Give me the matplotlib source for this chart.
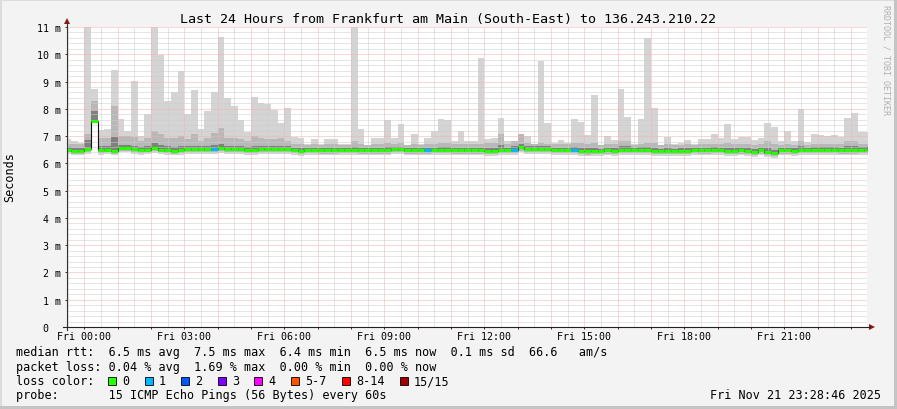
import numpy as np
import matplotlib
matplotlib.use("Agg")
import matplotlib.pyplot as plt
from matplotlib.ticker import MultipleLocator, FuncFormatter
from matplotlib.patches import Polygon, Rectangle
from matplotlib.lines import Line2D

W, H = 897, 410

TITLE = "Last 24 Hours from Frankfurt am Main (South-East) to 136.243.210.22"

# 12-minute steps, first one starts at 23:24 of the previous day (hours relative to Fri 00:00)
START_HOUR = -0.6
STEP_HOURS = 0.2

# top of the smoke (slowest ping), ms
MAX = [
    6.88, 6.82, 6.76, 11.0, 8.72, 7.22, 7.27, 9.41, 7.62, 7.19,
    9.02, 7.00, 7.80, 11.0, 9.96, 8.29, 8.63, 9.39, 7.80, 8.68,
    7.25, 7.92, 8.62, 10.64, 8.39, 8.10, 7.58, 7.15, 8.44, 8.23,
    8.19, 7.95, 7.49, 8.02, 6.97, 6.92, 6.72, 6.88, 6.72, 6.88,
    6.88, 6.72, 6.72, 11.0, 7.25, 6.67, 6.94, 6.94, 7.59, 6.94,
    7.43, 6.64, 7.09, 6.70, 6.94, 7.19, 7.62, 7.59, 6.82, 7.19,
    6.82, 6.82, 9.88, 6.88, 6.92, 7.68, 6.82, 6.82, 6.94, 7.00,
    6.67, 9.76, 7.49, 6.76, 6.86, 6.76, 7.62, 7.53, 7.04, 8.51,
    6.64, 7.00, 6.85, 8.74, 7.70, 6.72, 7.64, 10.59, 8.02, 6.67,
    6.98, 6.70, 6.76, 6.86, 6.72, 6.91, 6.91, 7.09, 6.94, 7.43,
    6.91, 6.98, 6.98, 6.86, 6.94, 7.48, 7.33, 6.82, 7.19, 6.82,
    8.01, 6.78, 7.07, 7.04, 7.00, 7.04, 6.97, 7.68, 7.85, 7.16,
    7.16,
]

# upper edge of the medium smoke
HI2 = [
    6.70, 6.70, 6.70, 7.07, 8.29, 6.92, 6.92, 8.10, 7.00, 7.00,
    6.97, 6.82, 6.92, 7.19, 7.07, 6.94, 6.94, 7.00, 6.88, 7.07,
    6.82, 6.94, 7.13, 7.31, 6.94, 6.94, 6.88, 6.82, 7.00, 6.92,
    6.88, 6.88, 6.94, 6.82, 6.72, 6.70, 6.68, 6.72, 6.68, 6.72,
    6.72, 6.68, 6.68, 6.82, 6.72, 6.68, 6.72, 6.72, 6.74, 6.72,
    6.74, 6.66, 6.72, 6.68, 6.72, 6.72, 6.76, 6.74, 6.70, 6.72,
    6.70, 6.70, 6.72, 6.76, 6.76, 7.07, 6.70, 6.82, 7.07, 6.76,
    6.72, 6.76, 6.72, 6.70, 6.70, 6.70, 6.74, 6.74, 6.70, 6.76,
    6.66, 6.70, 6.70, 6.82, 6.82, 6.68, 6.72, 6.76, 6.76, 6.66,
    6.70, 6.66, 6.68, 6.70, 6.68, 6.70, 6.70, 6.72, 6.70, 6.76,
    6.70, 6.70, 6.70, 6.68, 6.70, 6.82, 6.72, 6.68, 6.72, 6.68,
    6.82, 6.68, 6.72, 6.72, 6.72, 6.72, 6.70, 6.82, 6.82, 6.72,
    6.72,
]

# upper edge of the dark smoke
HI3 = [
    6.60, 6.56, 6.56, 6.85, 7.92, 6.62, 6.62, 6.95, 6.68, 6.68,
    6.64, 6.60, 6.62, 6.75, 6.66, 6.62, 6.60, 6.64, 6.64, 6.64,
    6.62, 6.62, 6.68, 6.72, 6.64, 6.64, 6.64, 6.60, 6.62, 6.64,
    6.64, 6.64, 6.64, 6.62, 6.58, 6.56, 6.58, 6.58, 6.56, 6.58,
    6.58, 6.58, 6.58, 6.60, 6.58, 6.56, 6.58, 6.58, 6.60, 6.60,
    6.60, 6.56, 6.58, 6.56, 6.58, 6.58, 6.60, 6.60, 6.56, 6.58,
    6.56, 6.56, 6.58, 6.56, 6.58, 6.68, 6.58, 6.62, 6.72, 6.62,
    6.62, 6.62, 6.62, 6.58, 6.58, 6.58, 6.60, 6.56, 6.56, 6.58,
    6.54, 6.56, 6.56, 6.62, 6.62, 6.58, 6.60, 6.60, 6.58, 6.54,
    6.56, 6.54, 6.56, 6.56, 6.58, 6.56, 6.58, 6.60, 6.58, 6.58,
    6.56, 6.58, 6.56, 6.53, 6.58, 6.58, 6.50, 6.56, 6.58, 6.56,
    6.62, 6.58, 6.60, 6.60, 6.60, 6.60, 6.58, 6.62, 6.62, 6.60,
    6.60,
]

# median rtt, ms
MEDIAN = [
    6.50, 6.46, 6.46, 6.52, 7.54, 6.50, 6.50, 6.46, 6.58, 6.58,
    6.54, 6.50, 6.50, 6.57, 6.50, 6.50, 6.46, 6.50, 6.54, 6.52,
    6.52, 6.52, 6.52, 6.57, 6.54, 6.54, 6.54, 6.50, 6.50, 6.54,
    6.54, 6.54, 6.54, 6.54, 6.50, 6.46, 6.50, 6.50, 6.48, 6.48,
    6.48, 6.50, 6.50, 6.50, 6.48, 6.48, 6.48, 6.48, 6.48, 6.52,
    6.52, 6.48, 6.48, 6.48, 6.48, 6.50, 6.50, 6.50, 6.48, 6.48,
    6.48, 6.48, 6.48, 6.46, 6.46, 6.50, 6.50, 6.50, 6.60, 6.54,
    6.54, 6.53, 6.53, 6.50, 6.50, 6.50, 6.50, 6.46, 6.46, 6.46,
    6.46, 6.48, 6.46, 6.50, 6.50, 6.50, 6.50, 6.50, 6.46, 6.46,
    6.46, 6.46, 6.46, 6.46, 6.50, 6.48, 6.48, 6.50, 6.50, 6.46,
    6.46, 6.48, 6.46, 6.43, 6.48, 6.43, 6.38, 6.48, 6.48, 6.46,
    6.50, 6.50, 6.50, 6.50, 6.50, 6.50, 6.48, 6.48, 6.48, 6.50,
    6.50,
]

# lower edge of the dark smoke
LO3 = [
    6.45, 6.41, 6.41, 6.47, 7.50, 6.45, 6.45, 6.41, 6.53, 6.53,
    6.49, 6.45, 6.45, 6.52, 6.45, 6.45, 6.41, 6.45, 6.49, 6.47,
    6.47, 6.47, 6.47, 6.52, 6.49, 6.49, 6.49, 6.45, 6.45, 6.49,
    6.49, 6.49, 6.49, 6.49, 6.45, 6.41, 6.45, 6.45, 6.43, 6.43,
    6.43, 6.45, 6.45, 6.45, 6.43, 6.43, 6.43, 6.43, 6.43, 6.47,
    6.47, 6.43, 6.43, 6.43, 6.43, 6.45, 6.45, 6.45, 6.43, 6.43,
    6.43, 6.43, 6.43, 6.41, 6.41, 6.45, 6.45, 6.45, 6.55, 6.49,
    6.49, 6.48, 6.48, 6.45, 6.45, 6.45, 6.45, 6.41, 6.41, 6.41,
    6.41, 6.43, 6.41, 6.45, 6.45, 6.45, 6.45, 6.45, 6.41, 6.41,
    6.41, 6.41, 6.41, 6.41, 6.45, 6.43, 6.43, 6.45, 6.45, 6.41,
    6.41, 6.43, 6.41, 6.38, 6.43, 6.38, 6.33, 6.43, 6.43, 6.41,
    6.45, 6.45, 6.45, 6.45, 6.45, 6.45, 6.43, 6.43, 6.43, 6.45,
    6.45,
]

# lower edge of the medium smoke
LO2 = [
    6.40, 6.36, 6.36, 6.42, 7.50, 6.38, 6.40, 6.36, 6.46, 6.46,
    6.42, 6.38, 6.40, 6.44, 6.40, 6.38, 6.36, 6.38, 6.42, 6.40,
    6.40, 6.40, 6.40, 6.44, 6.42, 6.42, 6.42, 6.38, 6.38, 6.42,
    6.42, 6.42, 6.42, 6.42, 6.38, 6.34, 6.38, 6.38, 6.36, 6.36,
    6.36, 6.38, 6.38, 6.38, 6.36, 6.36, 6.36, 6.36, 6.36, 6.40,
    6.40, 6.36, 6.36, 6.36, 6.36, 6.38, 6.38, 6.38, 6.36, 6.36,
    6.36, 6.36, 6.36, 6.34, 6.34, 6.38, 6.38, 6.38, 6.46, 6.42,
    6.42, 6.41, 6.41, 6.38, 6.38, 6.38, 6.38, 6.34, 6.32, 6.34,
    6.34, 6.36, 6.34, 6.38, 6.38, 6.38, 6.38, 6.38, 6.34, 6.34,
    6.34, 6.34, 6.34, 6.34, 6.38, 6.36, 6.36, 6.38, 6.38, 6.34,
    6.34, 6.36, 6.34, 6.31, 6.36, 6.31, 6.26, 6.36, 6.36, 6.34,
    6.38, 6.38, 6.38, 6.38, 6.38, 6.38, 6.36, 6.36, 6.36, 6.38,
    6.38,
]

# bottom of the smoke (fastest ping)
LO = [
    6.34, 6.30, 6.30, 6.36, 7.50, 6.32, 6.34, 6.30, 6.40, 6.40,
    6.36, 6.32, 6.34, 6.38, 6.34, 6.32, 6.30, 6.32, 6.36, 6.34,
    6.34, 6.34, 6.34, 6.38, 6.36, 6.36, 6.36, 6.32, 6.32, 6.36,
    6.36, 6.36, 6.36, 6.36, 6.32, 6.28, 6.32, 6.32, 6.30, 6.30,
    6.30, 6.32, 6.32, 6.32, 6.30, 6.30, 6.30, 6.30, 6.30, 6.34,
    6.34, 6.30, 6.30, 6.30, 6.30, 6.32, 6.32, 6.32, 6.30, 6.30,
    6.30, 6.30, 6.30, 6.28, 6.28, 6.32, 6.32, 6.32, 6.40, 6.36,
    6.36, 6.35, 6.35, 6.32, 6.32, 6.32, 6.32, 6.28, 6.26, 6.28,
    6.28, 6.30, 6.28, 6.32, 6.32, 6.32, 6.32, 6.32, 6.28, 6.28,
    6.28, 6.28, 6.28, 6.28, 6.32, 6.30, 6.30, 6.32, 6.32, 6.28,
    6.28, 6.30, 6.28, 6.25, 6.30, 6.25, 6.20, 6.30, 6.30, 6.28,
    6.32, 6.32, 6.32, 6.32, 6.32, 6.32, 6.30, 6.30, 6.30, 6.32,
    6.32,
]

# steps where pings were lost (index -> lost pings)
LOSS_STEPS = [22, 54, 67, 76]
LOSS_COUNTS = [1, 1, 1, 1]

LOSS_LABELS = ["0", "1", "2", "3", "4", "5-7", "8-14", "15/15"]
LOSS_COLORS = ["#26ff00", "#00b8ff", "#0059ff", "#7e00ff", "#ff00ff",
               "#ff5500", "#ff0000", "#a10000"]

RTT_STATS = [6.5, 7.5, 6.4, 6.5]     # avg max min now
RTT_SD = 0.1
RTT_AMS = 66.6
LOSS_STATS = [0.04, 1.69, 0.00, 0.00]
PROBE = "15 ICMP Echo Pings (56 Bytes) every 60s"
STAMP = "Fri Nov 21 23:28:46 2025"


def fx(x):
    return x / W


def fy(y):
    return 1 - y / H


def loss_color(n):
    if n == 0:
        return LOSS_COLORS[0]
    if n <= 4:
        return LOSS_COLORS[n]
    if n <= 7:
        return LOSS_COLORS[5]
    if n <= 14:
        return LOSS_COLORS[6]
    return LOSS_COLORS[7]


plt.rcParams["font.family"] = "DejaVu Sans Mono"

fig = plt.figure(figsize=(W / 100, H / 100), dpi=100, facecolor="#f3f3f3")
ax = fig.add_axes([fx(67), fy(328), 800 / W, 300 / H])
ax.set_facecolor("white")

n = len(MEDIAN)
edges = START_HOUR + STEP_HOURS * np.arange(n + 1)


def band(lo, hi, color):
    ax.fill_between(edges, lo + [lo[-1]], hi + [hi[-1]], step="post",
                    color=color, linewidth=0, zorder=1)


band(LO, MAX, "#d4d4d4")
band(LO2, HI2, "#b8b8b8")
band(LO3, HI3, "#808080")

# median: thin dark step line plus loss-coloured segments
ax.step(edges, MEDIAN + [MEDIAN[-1]], where="post", color="#111111", lw=0.8, zorder=3)
losses = [0] * n
for i, c in zip(LOSS_STEPS, LOSS_COUNTS):
    losses[i] = c
ax.hlines(MEDIAN, edges[:-1], edges[1:], colors=[loss_color(c) for c in losses],
          lw=2.2, zorder=4, capstyle="butt")

ax.set_xlim(-0.521, 23.479)
ax.set_ylim(0, 11)
ax.xaxis.set_major_locator(MultipleLocator(1))
ax.xaxis.set_minor_locator(MultipleLocator(0.5))
ax.yaxis.set_major_locator(MultipleLocator(1))
ax.yaxis.set_minor_locator(MultipleLocator(0.2))


def xlab(v, pos):
    h = int(round(v))
    if 0 <= h < 24 and h % 3 == 0:
        return "Fri %02d:00" % h
    return ""


def ylab(v, pos):
    v = int(round(v))
    return "0  " if v == 0 else "%d m" % v


ax.xaxis.set_major_formatter(FuncFormatter(xlab))
ax.yaxis.set_major_formatter(FuncFormatter(ylab))

ax.grid(which="major", color="#f6b0b0", lw=0.72, linestyle=(0, (1, 1)))
ax.grid(which="minor", color="#cdcdcd", lw=0.72, linestyle=(0, (1, 1)))
ax.set_axisbelow(False)

ax.tick_params(which="major", length=1.5, width=0.7, color="#333333", labelsize=7.2)
ax.tick_params(which="minor", length=0)
ax.tick_params(axis="x", pad=1.5)
ax.tick_params(axis="y", pad=3)
for s in ax.spines.values():
    s.set_visible(False)

# axes with arrows
fig.add_artist(Line2D([fx(67), fx(67)], [fy(331), fy(24)], color="#333333", lw=0.8))
fig.add_artist(Line2D([fx(63), fx(870)], [fy(328), fy(328)], color="#222222", lw=0.8))
fig.add_artist(Polygon([[fx(64), fy(25)], [fx(70), fy(25)], [fx(67), fy(19)]],
                       closed=True, color="#8b1a1a", lw=0))
fig.add_artist(Polygon([[fx(869), fy(325)], [fx(869), fy(331)], [fx(875), fy(328)]],
                       closed=True, color="#8b1a1a", lw=0))

fig.text(fx(448), fy(19), TITLE, ha="center", va="center", fontsize=9.6)
fig.text(fx(10), fy(177), "Seconds", rotation=90, ha="center", va="center", fontsize=8.5)
fig.text(fx(886), fy(60), "RRDTOOL / TOBI OETIKER", rotation=270, ha="center",
         va="center", fontsize=6, color="#b0b0b0")

# legend block
line1 = ("median rtt:  %.1f ms avg  %.1f ms max  %.1f ms min  %.1f ms now  %.1f ms sd  %.1f   am/s"
         % (RTT_STATS[0], RTT_STATS[1], RTT_STATS[2], RTT_STATS[3], RTT_SD, RTT_AMS))
line2 = ("packet loss: %.2f %% avg  %.2f %% max  %.2f %% min  %.2f %% now"
         % tuple(LOSS_STATS))
fig.text(fx(16), fy(353), line1, ha="left", va="center", fontsize=8.5)
fig.text(fx(16), fy(368), line2, ha="left", va="center", fontsize=8.5)
fig.text(fx(16), fy(382), "loss color:", ha="left", va="center", fontsize=8.5)
fig.text(fx(16), fy(396), "probe:       " + PROBE, ha="left", va="center", fontsize=8.5)
fig.text(fx(881), fy(396), STAMP, ha="right", va="center", fontsize=8.5)

x = 108.0
for lab, col in zip(LOSS_LABELS, LOSS_COLORS):
    fig.add_artist(Rectangle((fx(x), fy(386)), 8 / W, 8 / H, facecolor=col,
                             edgecolor="black", lw=0.6))
    fig.text(fx(x + 14), fy(382), lab, ha="left", va="center", fontsize=8.5)
    x += 14 + 7.1 * len(lab) + 15.5

# frame
fig.add_artist(Rectangle((0, fy(2)), 1, 2 / H, color="#dcdcdc", lw=0))
fig.add_artist(Rectangle((0, 0), 2 / W, 1, color="#dcdcdc", lw=0))
fig.add_artist(Rectangle((fx(894), 0), 3 / W, 1, color="#c4c4c4", lw=0))
fig.add_artist(Rectangle((0, 0), 1, 3 / H, color="#c4c4c4", lw=0))

fig.savefig("out.png", dpi=100, facecolor=fig.get_facecolor())
